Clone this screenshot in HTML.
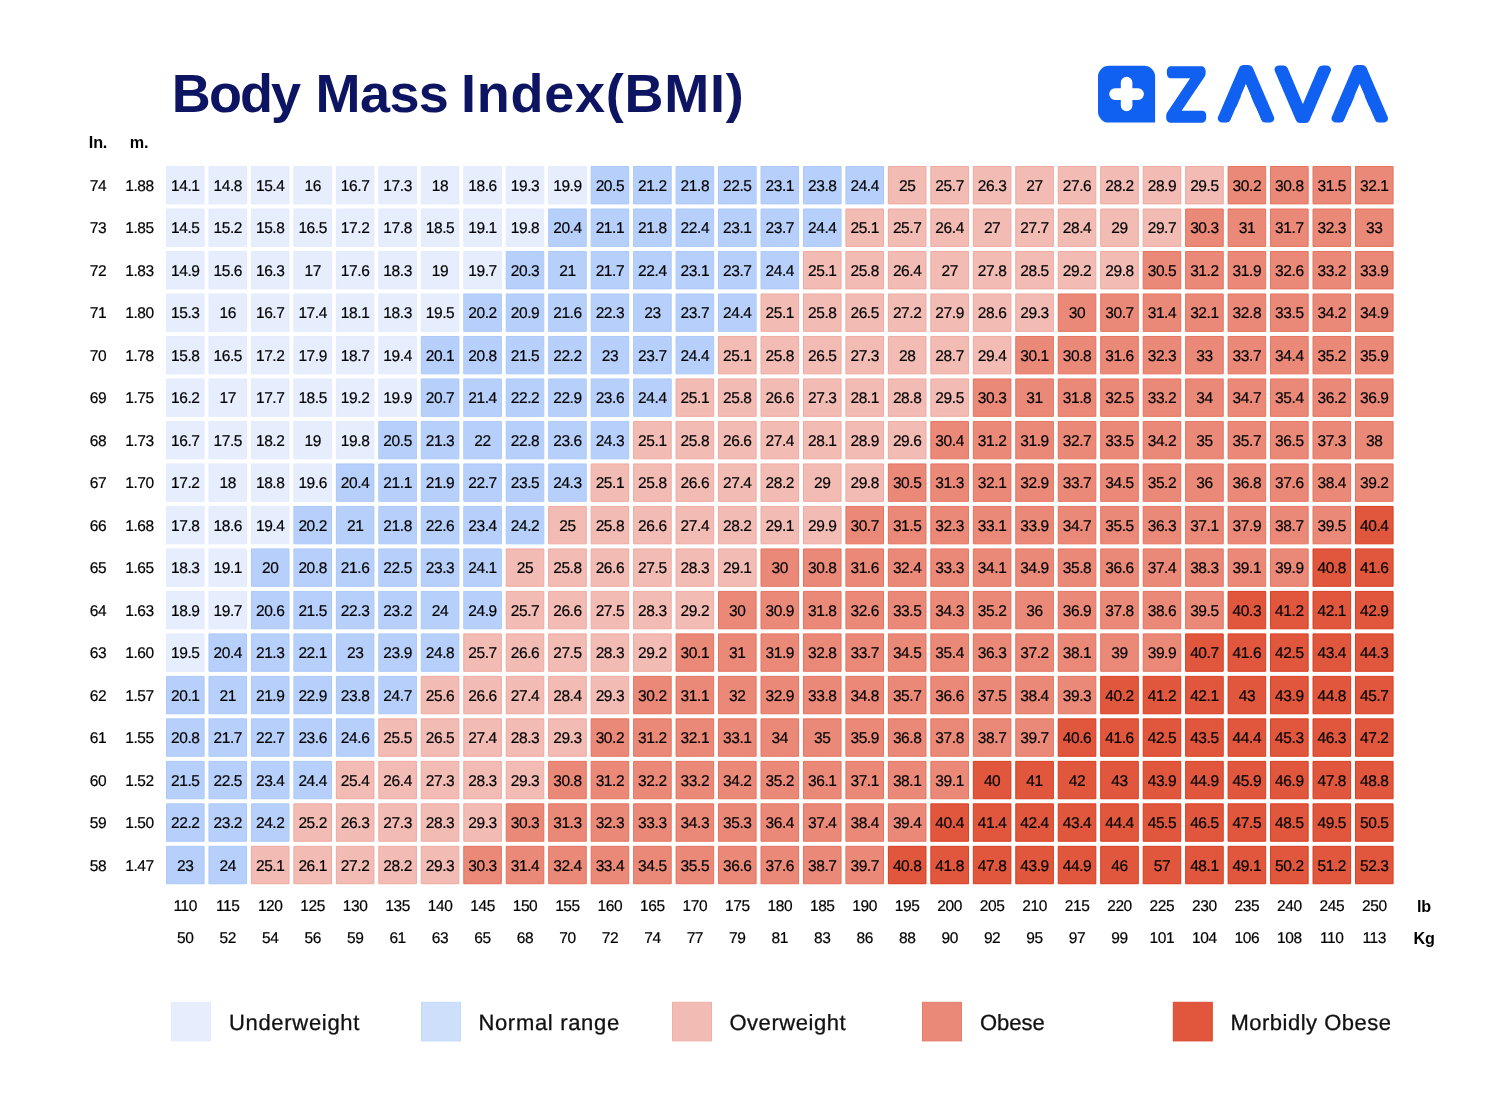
<!DOCTYPE html>
<html lang="en">
<head>
<meta charset="utf-8">
<title>Body Mass Index (BMI) chart</title>
<style>
html,body{margin:0;padding:0;background:#fff;}
body{width:1500px;height:1112px;position:relative;overflow:hidden;font-family:"Liberation Sans",sans-serif;color:#000;}
#title{position:absolute;left:171.8px;top:60px;margin:0;font-size:54px;line-height:66px;height:66px;width:800px;font-weight:bold;color:#0d1562;white-space:nowrap;}
#bg{position:absolute;left:0;top:0;}
.hd{position:absolute;font-weight:bold;font-size:16.2px;letter-spacing:-0.2px;line-height:20px;text-align:center;width:40px;}
.r{position:absolute;left:0;width:1500px;height:38.4px;}
.r div,.r span{position:absolute;top:0;height:38.4px;line-height:38.4px;text-align:center;font-size:15.5px;letter-spacing:-0.4px;-webkit-text-stroke:0.2px #000;text-rendering:geometricPrecision;}
.r div{width:38.6px;}
.r span{width:50px;}
.lt{position:absolute;top:1003px;height:40px;line-height:40px;font-size:22px;white-space:nowrap;color:#111;-webkit-text-stroke:0.3px #111;text-rendering:geometricPrecision;}
#logo{position:absolute;left:1090px;top:55px;}
</style>
</head>
<body>
<h1 id="title"><span style="letter-spacing:-1.9px">Body</span> <span style="letter-spacing:-0.6px;margin-left:1.4px">Mass</span> <span style="letter-spacing:0.75px;margin-left:-2.3px">Index(BMI)</span></h1>
<svg id="logo" width="320" height="80" viewBox="1090 55 320 80" role="img" aria-label="ZAVA">
<path d="M1109.0 65.7 H1144.1 A11 11 0 0 1 1155.1 76.7 V122.6 H1109.0 A11 11 0 0 1 1098.0 111.6 V76.7 A11 11 0 0 1 1109.0 65.7 Z" fill="#1061f2"/>
<path d="M1126.6 82.5 V105.4 M1115 94.1 H1138.1" stroke="#fff" stroke-width="11.6" stroke-linecap="round" fill="none"/>
<g transform="translate(1167.73 118.60) scale(0.7642 0.6694)" fill="#1061f2" stroke="#1061f2" stroke-linejoin="round"><text y="0" font-family="'DejaVu Sans Light','DejaVu Sans',sans-serif" font-weight="200" font-size="100" stroke-width="11.95"><tspan x="0" y="-1.12" font-size="96.93" textLength="48.35" lengthAdjust="spacingAndGlyphs" stroke-width="14.19">Z</tspan><tspan x="68.52" y="0">A</tspan><tspan x="142.53" y="0">V</tspan><tspan x="217.29" y="0">A</tspan></text><polygon fill="#fff" stroke="none" points="78.72,11.95 102.31,-50.66 126.02,11.95"/><polygon fill="#fff" stroke="none" points="227.49,11.95 251.08,-50.66 274.79,11.95"/></g>
</svg>
<svg id="bg" width="1500" height="1112" viewBox="0 0 1500 1112" aria-hidden="true">
<path fill="#e6eefe" stroke="#e3ebfe" d="M166.50 166.50h37.6v37.4h-37.6zM208.96 166.50h37.6v37.4h-37.6zM251.43 166.50h37.6v37.4h-37.6zM293.89 166.50h37.6v37.4h-37.6zM336.36 166.50h37.6v37.4h-37.6zM378.82 166.50h37.6v37.4h-37.6zM421.28 166.50h37.6v37.4h-37.6zM463.75 166.50h37.6v37.4h-37.6zM506.21 166.50h37.6v37.4h-37.6zM548.68 166.50h37.6v37.4h-37.6zM166.50 208.99h37.6v37.4h-37.6zM208.96 208.99h37.6v37.4h-37.6zM251.43 208.99h37.6v37.4h-37.6zM293.89 208.99h37.6v37.4h-37.6zM336.36 208.99h37.6v37.4h-37.6zM378.82 208.99h37.6v37.4h-37.6zM421.28 208.99h37.6v37.4h-37.6zM463.75 208.99h37.6v37.4h-37.6zM506.21 208.99h37.6v37.4h-37.6zM166.50 251.48h37.6v37.4h-37.6zM208.96 251.48h37.6v37.4h-37.6zM251.43 251.48h37.6v37.4h-37.6zM293.89 251.48h37.6v37.4h-37.6zM336.36 251.48h37.6v37.4h-37.6zM378.82 251.48h37.6v37.4h-37.6zM421.28 251.48h37.6v37.4h-37.6zM463.75 251.48h37.6v37.4h-37.6zM166.50 293.97h37.6v37.4h-37.6zM208.96 293.97h37.6v37.4h-37.6zM251.43 293.97h37.6v37.4h-37.6zM293.89 293.97h37.6v37.4h-37.6zM336.36 293.97h37.6v37.4h-37.6zM378.82 293.97h37.6v37.4h-37.6zM421.28 293.97h37.6v37.4h-37.6zM166.50 336.46h37.6v37.4h-37.6zM208.96 336.46h37.6v37.4h-37.6zM251.43 336.46h37.6v37.4h-37.6zM293.89 336.46h37.6v37.4h-37.6zM336.36 336.46h37.6v37.4h-37.6zM378.82 336.46h37.6v37.4h-37.6zM166.50 378.95h37.6v37.4h-37.6zM208.96 378.95h37.6v37.4h-37.6zM251.43 378.95h37.6v37.4h-37.6zM293.89 378.95h37.6v37.4h-37.6zM336.36 378.95h37.6v37.4h-37.6zM378.82 378.95h37.6v37.4h-37.6zM166.50 421.44h37.6v37.4h-37.6zM208.96 421.44h37.6v37.4h-37.6zM251.43 421.44h37.6v37.4h-37.6zM293.89 421.44h37.6v37.4h-37.6zM336.36 421.44h37.6v37.4h-37.6zM166.50 463.93h37.6v37.4h-37.6zM208.96 463.93h37.6v37.4h-37.6zM251.43 463.93h37.6v37.4h-37.6zM293.89 463.93h37.6v37.4h-37.6zM166.50 506.42h37.6v37.4h-37.6zM208.96 506.42h37.6v37.4h-37.6zM251.43 506.42h37.6v37.4h-37.6zM166.50 548.91h37.6v37.4h-37.6zM208.96 548.91h37.6v37.4h-37.6zM166.50 591.40h37.6v37.4h-37.6zM208.96 591.40h37.6v37.4h-37.6zM166.50 633.89h37.6v37.4h-37.6z"/>
<path fill="#b7d0fb" stroke="#acc9fa" d="M591.14 166.50h37.6v37.4h-37.6zM633.60 166.50h37.6v37.4h-37.6zM676.07 166.50h37.6v37.4h-37.6zM718.53 166.50h37.6v37.4h-37.6zM761.00 166.50h37.6v37.4h-37.6zM803.46 166.50h37.6v37.4h-37.6zM845.92 166.50h37.6v37.4h-37.6zM548.68 208.99h37.6v37.4h-37.6zM591.14 208.99h37.6v37.4h-37.6zM633.60 208.99h37.6v37.4h-37.6zM676.07 208.99h37.6v37.4h-37.6zM718.53 208.99h37.6v37.4h-37.6zM761.00 208.99h37.6v37.4h-37.6zM803.46 208.99h37.6v37.4h-37.6zM506.21 251.48h37.6v37.4h-37.6zM548.68 251.48h37.6v37.4h-37.6zM591.14 251.48h37.6v37.4h-37.6zM633.60 251.48h37.6v37.4h-37.6zM676.07 251.48h37.6v37.4h-37.6zM718.53 251.48h37.6v37.4h-37.6zM761.00 251.48h37.6v37.4h-37.6zM463.75 293.97h37.6v37.4h-37.6zM506.21 293.97h37.6v37.4h-37.6zM548.68 293.97h37.6v37.4h-37.6zM591.14 293.97h37.6v37.4h-37.6zM633.60 293.97h37.6v37.4h-37.6zM676.07 293.97h37.6v37.4h-37.6zM718.53 293.97h37.6v37.4h-37.6zM421.28 336.46h37.6v37.4h-37.6zM463.75 336.46h37.6v37.4h-37.6zM506.21 336.46h37.6v37.4h-37.6zM548.68 336.46h37.6v37.4h-37.6zM591.14 336.46h37.6v37.4h-37.6zM633.60 336.46h37.6v37.4h-37.6zM676.07 336.46h37.6v37.4h-37.6zM421.28 378.95h37.6v37.4h-37.6zM463.75 378.95h37.6v37.4h-37.6zM506.21 378.95h37.6v37.4h-37.6zM548.68 378.95h37.6v37.4h-37.6zM591.14 378.95h37.6v37.4h-37.6zM633.60 378.95h37.6v37.4h-37.6zM378.82 421.44h37.6v37.4h-37.6zM421.28 421.44h37.6v37.4h-37.6zM463.75 421.44h37.6v37.4h-37.6zM506.21 421.44h37.6v37.4h-37.6zM548.68 421.44h37.6v37.4h-37.6zM591.14 421.44h37.6v37.4h-37.6zM336.36 463.93h37.6v37.4h-37.6zM378.82 463.93h37.6v37.4h-37.6zM421.28 463.93h37.6v37.4h-37.6zM463.75 463.93h37.6v37.4h-37.6zM506.21 463.93h37.6v37.4h-37.6zM548.68 463.93h37.6v37.4h-37.6zM293.89 506.42h37.6v37.4h-37.6zM336.36 506.42h37.6v37.4h-37.6zM378.82 506.42h37.6v37.4h-37.6zM421.28 506.42h37.6v37.4h-37.6zM463.75 506.42h37.6v37.4h-37.6zM506.21 506.42h37.6v37.4h-37.6zM251.43 548.91h37.6v37.4h-37.6zM293.89 548.91h37.6v37.4h-37.6zM336.36 548.91h37.6v37.4h-37.6zM378.82 548.91h37.6v37.4h-37.6zM421.28 548.91h37.6v37.4h-37.6zM463.75 548.91h37.6v37.4h-37.6zM251.43 591.40h37.6v37.4h-37.6zM293.89 591.40h37.6v37.4h-37.6zM336.36 591.40h37.6v37.4h-37.6zM378.82 591.40h37.6v37.4h-37.6zM421.28 591.40h37.6v37.4h-37.6zM463.75 591.40h37.6v37.4h-37.6zM208.96 633.89h37.6v37.4h-37.6zM251.43 633.89h37.6v37.4h-37.6zM293.89 633.89h37.6v37.4h-37.6zM336.36 633.89h37.6v37.4h-37.6zM378.82 633.89h37.6v37.4h-37.6zM421.28 633.89h37.6v37.4h-37.6zM166.50 676.38h37.6v37.4h-37.6zM208.96 676.38h37.6v37.4h-37.6zM251.43 676.38h37.6v37.4h-37.6zM293.89 676.38h37.6v37.4h-37.6zM336.36 676.38h37.6v37.4h-37.6zM378.82 676.38h37.6v37.4h-37.6zM166.50 718.87h37.6v37.4h-37.6zM208.96 718.87h37.6v37.4h-37.6zM251.43 718.87h37.6v37.4h-37.6zM293.89 718.87h37.6v37.4h-37.6zM336.36 718.87h37.6v37.4h-37.6zM166.50 761.36h37.6v37.4h-37.6zM208.96 761.36h37.6v37.4h-37.6zM251.43 761.36h37.6v37.4h-37.6zM293.89 761.36h37.6v37.4h-37.6zM166.50 803.85h37.6v37.4h-37.6zM208.96 803.85h37.6v37.4h-37.6zM251.43 803.85h37.6v37.4h-37.6zM166.50 846.34h37.6v37.4h-37.6zM208.96 846.34h37.6v37.4h-37.6z"/>
<path fill="#f2bbb3" stroke="#efaaa0" d="M888.39 166.50h37.6v37.4h-37.6zM930.85 166.50h37.6v37.4h-37.6zM973.32 166.50h37.6v37.4h-37.6zM1015.78 166.50h37.6v37.4h-37.6zM1058.24 166.50h37.6v37.4h-37.6zM1100.71 166.50h37.6v37.4h-37.6zM1143.17 166.50h37.6v37.4h-37.6zM1185.64 166.50h37.6v37.4h-37.6zM845.92 208.99h37.6v37.4h-37.6zM888.39 208.99h37.6v37.4h-37.6zM930.85 208.99h37.6v37.4h-37.6zM973.32 208.99h37.6v37.4h-37.6zM1015.78 208.99h37.6v37.4h-37.6zM1058.24 208.99h37.6v37.4h-37.6zM1100.71 208.99h37.6v37.4h-37.6zM1143.17 208.99h37.6v37.4h-37.6zM803.46 251.48h37.6v37.4h-37.6zM845.92 251.48h37.6v37.4h-37.6zM888.39 251.48h37.6v37.4h-37.6zM930.85 251.48h37.6v37.4h-37.6zM973.32 251.48h37.6v37.4h-37.6zM1015.78 251.48h37.6v37.4h-37.6zM1058.24 251.48h37.6v37.4h-37.6zM1100.71 251.48h37.6v37.4h-37.6zM761.00 293.97h37.6v37.4h-37.6zM803.46 293.97h37.6v37.4h-37.6zM845.92 293.97h37.6v37.4h-37.6zM888.39 293.97h37.6v37.4h-37.6zM930.85 293.97h37.6v37.4h-37.6zM973.32 293.97h37.6v37.4h-37.6zM1015.78 293.97h37.6v37.4h-37.6zM718.53 336.46h37.6v37.4h-37.6zM761.00 336.46h37.6v37.4h-37.6zM803.46 336.46h37.6v37.4h-37.6zM845.92 336.46h37.6v37.4h-37.6zM888.39 336.46h37.6v37.4h-37.6zM930.85 336.46h37.6v37.4h-37.6zM973.32 336.46h37.6v37.4h-37.6zM676.07 378.95h37.6v37.4h-37.6zM718.53 378.95h37.6v37.4h-37.6zM761.00 378.95h37.6v37.4h-37.6zM803.46 378.95h37.6v37.4h-37.6zM845.92 378.95h37.6v37.4h-37.6zM888.39 378.95h37.6v37.4h-37.6zM930.85 378.95h37.6v37.4h-37.6zM633.60 421.44h37.6v37.4h-37.6zM676.07 421.44h37.6v37.4h-37.6zM718.53 421.44h37.6v37.4h-37.6zM761.00 421.44h37.6v37.4h-37.6zM803.46 421.44h37.6v37.4h-37.6zM845.92 421.44h37.6v37.4h-37.6zM888.39 421.44h37.6v37.4h-37.6zM591.14 463.93h37.6v37.4h-37.6zM633.60 463.93h37.6v37.4h-37.6zM676.07 463.93h37.6v37.4h-37.6zM718.53 463.93h37.6v37.4h-37.6zM761.00 463.93h37.6v37.4h-37.6zM803.46 463.93h37.6v37.4h-37.6zM845.92 463.93h37.6v37.4h-37.6zM548.68 506.42h37.6v37.4h-37.6zM591.14 506.42h37.6v37.4h-37.6zM633.60 506.42h37.6v37.4h-37.6zM676.07 506.42h37.6v37.4h-37.6zM718.53 506.42h37.6v37.4h-37.6zM761.00 506.42h37.6v37.4h-37.6zM803.46 506.42h37.6v37.4h-37.6zM506.21 548.91h37.6v37.4h-37.6zM548.68 548.91h37.6v37.4h-37.6zM591.14 548.91h37.6v37.4h-37.6zM633.60 548.91h37.6v37.4h-37.6zM676.07 548.91h37.6v37.4h-37.6zM718.53 548.91h37.6v37.4h-37.6zM506.21 591.40h37.6v37.4h-37.6zM548.68 591.40h37.6v37.4h-37.6zM591.14 591.40h37.6v37.4h-37.6zM633.60 591.40h37.6v37.4h-37.6zM676.07 591.40h37.6v37.4h-37.6zM463.75 633.89h37.6v37.4h-37.6zM506.21 633.89h37.6v37.4h-37.6zM548.68 633.89h37.6v37.4h-37.6zM591.14 633.89h37.6v37.4h-37.6zM633.60 633.89h37.6v37.4h-37.6zM421.28 676.38h37.6v37.4h-37.6zM463.75 676.38h37.6v37.4h-37.6zM506.21 676.38h37.6v37.4h-37.6zM548.68 676.38h37.6v37.4h-37.6zM591.14 676.38h37.6v37.4h-37.6zM378.82 718.87h37.6v37.4h-37.6zM421.28 718.87h37.6v37.4h-37.6zM463.75 718.87h37.6v37.4h-37.6zM506.21 718.87h37.6v37.4h-37.6zM548.68 718.87h37.6v37.4h-37.6zM336.36 761.36h37.6v37.4h-37.6zM378.82 761.36h37.6v37.4h-37.6zM421.28 761.36h37.6v37.4h-37.6zM463.75 761.36h37.6v37.4h-37.6zM506.21 761.36h37.6v37.4h-37.6zM293.89 803.85h37.6v37.4h-37.6zM336.36 803.85h37.6v37.4h-37.6zM378.82 803.85h37.6v37.4h-37.6zM421.28 803.85h37.6v37.4h-37.6zM463.75 803.85h37.6v37.4h-37.6zM251.43 846.34h37.6v37.4h-37.6zM293.89 846.34h37.6v37.4h-37.6zM336.36 846.34h37.6v37.4h-37.6zM378.82 846.34h37.6v37.4h-37.6zM421.28 846.34h37.6v37.4h-37.6z"/>
<path fill="#eb8978" stroke="#e5735e" d="M1228.10 166.50h37.6v37.4h-37.6zM1270.56 166.50h37.6v37.4h-37.6zM1313.03 166.50h37.6v37.4h-37.6zM1355.49 166.50h37.6v37.4h-37.6zM1185.64 208.99h37.6v37.4h-37.6zM1228.10 208.99h37.6v37.4h-37.6zM1270.56 208.99h37.6v37.4h-37.6zM1313.03 208.99h37.6v37.4h-37.6zM1355.49 208.99h37.6v37.4h-37.6zM1143.17 251.48h37.6v37.4h-37.6zM1185.64 251.48h37.6v37.4h-37.6zM1228.10 251.48h37.6v37.4h-37.6zM1270.56 251.48h37.6v37.4h-37.6zM1313.03 251.48h37.6v37.4h-37.6zM1355.49 251.48h37.6v37.4h-37.6zM1058.24 293.97h37.6v37.4h-37.6zM1100.71 293.97h37.6v37.4h-37.6zM1143.17 293.97h37.6v37.4h-37.6zM1185.64 293.97h37.6v37.4h-37.6zM1228.10 293.97h37.6v37.4h-37.6zM1270.56 293.97h37.6v37.4h-37.6zM1313.03 293.97h37.6v37.4h-37.6zM1355.49 293.97h37.6v37.4h-37.6zM1015.78 336.46h37.6v37.4h-37.6zM1058.24 336.46h37.6v37.4h-37.6zM1100.71 336.46h37.6v37.4h-37.6zM1143.17 336.46h37.6v37.4h-37.6zM1185.64 336.46h37.6v37.4h-37.6zM1228.10 336.46h37.6v37.4h-37.6zM1270.56 336.46h37.6v37.4h-37.6zM1313.03 336.46h37.6v37.4h-37.6zM1355.49 336.46h37.6v37.4h-37.6zM973.32 378.95h37.6v37.4h-37.6zM1015.78 378.95h37.6v37.4h-37.6zM1058.24 378.95h37.6v37.4h-37.6zM1100.71 378.95h37.6v37.4h-37.6zM1143.17 378.95h37.6v37.4h-37.6zM1185.64 378.95h37.6v37.4h-37.6zM1228.10 378.95h37.6v37.4h-37.6zM1270.56 378.95h37.6v37.4h-37.6zM1313.03 378.95h37.6v37.4h-37.6zM1355.49 378.95h37.6v37.4h-37.6zM930.85 421.44h37.6v37.4h-37.6zM973.32 421.44h37.6v37.4h-37.6zM1015.78 421.44h37.6v37.4h-37.6zM1058.24 421.44h37.6v37.4h-37.6zM1100.71 421.44h37.6v37.4h-37.6zM1143.17 421.44h37.6v37.4h-37.6zM1185.64 421.44h37.6v37.4h-37.6zM1228.10 421.44h37.6v37.4h-37.6zM1270.56 421.44h37.6v37.4h-37.6zM1313.03 421.44h37.6v37.4h-37.6zM1355.49 421.44h37.6v37.4h-37.6zM888.39 463.93h37.6v37.4h-37.6zM930.85 463.93h37.6v37.4h-37.6zM973.32 463.93h37.6v37.4h-37.6zM1015.78 463.93h37.6v37.4h-37.6zM1058.24 463.93h37.6v37.4h-37.6zM1100.71 463.93h37.6v37.4h-37.6zM1143.17 463.93h37.6v37.4h-37.6zM1185.64 463.93h37.6v37.4h-37.6zM1228.10 463.93h37.6v37.4h-37.6zM1270.56 463.93h37.6v37.4h-37.6zM1313.03 463.93h37.6v37.4h-37.6zM1355.49 463.93h37.6v37.4h-37.6zM845.92 506.42h37.6v37.4h-37.6zM888.39 506.42h37.6v37.4h-37.6zM930.85 506.42h37.6v37.4h-37.6zM973.32 506.42h37.6v37.4h-37.6zM1015.78 506.42h37.6v37.4h-37.6zM1058.24 506.42h37.6v37.4h-37.6zM1100.71 506.42h37.6v37.4h-37.6zM1143.17 506.42h37.6v37.4h-37.6zM1185.64 506.42h37.6v37.4h-37.6zM1228.10 506.42h37.6v37.4h-37.6zM1270.56 506.42h37.6v37.4h-37.6zM1313.03 506.42h37.6v37.4h-37.6zM761.00 548.91h37.6v37.4h-37.6zM803.46 548.91h37.6v37.4h-37.6zM845.92 548.91h37.6v37.4h-37.6zM888.39 548.91h37.6v37.4h-37.6zM930.85 548.91h37.6v37.4h-37.6zM973.32 548.91h37.6v37.4h-37.6zM1015.78 548.91h37.6v37.4h-37.6zM1058.24 548.91h37.6v37.4h-37.6zM1100.71 548.91h37.6v37.4h-37.6zM1143.17 548.91h37.6v37.4h-37.6zM1185.64 548.91h37.6v37.4h-37.6zM1228.10 548.91h37.6v37.4h-37.6zM1270.56 548.91h37.6v37.4h-37.6zM718.53 591.40h37.6v37.4h-37.6zM761.00 591.40h37.6v37.4h-37.6zM803.46 591.40h37.6v37.4h-37.6zM845.92 591.40h37.6v37.4h-37.6zM888.39 591.40h37.6v37.4h-37.6zM930.85 591.40h37.6v37.4h-37.6zM973.32 591.40h37.6v37.4h-37.6zM1015.78 591.40h37.6v37.4h-37.6zM1058.24 591.40h37.6v37.4h-37.6zM1100.71 591.40h37.6v37.4h-37.6zM1143.17 591.40h37.6v37.4h-37.6zM1185.64 591.40h37.6v37.4h-37.6zM676.07 633.89h37.6v37.4h-37.6zM718.53 633.89h37.6v37.4h-37.6zM761.00 633.89h37.6v37.4h-37.6zM803.46 633.89h37.6v37.4h-37.6zM845.92 633.89h37.6v37.4h-37.6zM888.39 633.89h37.6v37.4h-37.6zM930.85 633.89h37.6v37.4h-37.6zM973.32 633.89h37.6v37.4h-37.6zM1015.78 633.89h37.6v37.4h-37.6zM1058.24 633.89h37.6v37.4h-37.6zM1100.71 633.89h37.6v37.4h-37.6zM1143.17 633.89h37.6v37.4h-37.6zM633.60 676.38h37.6v37.4h-37.6zM676.07 676.38h37.6v37.4h-37.6zM718.53 676.38h37.6v37.4h-37.6zM761.00 676.38h37.6v37.4h-37.6zM803.46 676.38h37.6v37.4h-37.6zM845.92 676.38h37.6v37.4h-37.6zM888.39 676.38h37.6v37.4h-37.6zM930.85 676.38h37.6v37.4h-37.6zM973.32 676.38h37.6v37.4h-37.6zM1015.78 676.38h37.6v37.4h-37.6zM1058.24 676.38h37.6v37.4h-37.6zM591.14 718.87h37.6v37.4h-37.6zM633.60 718.87h37.6v37.4h-37.6zM676.07 718.87h37.6v37.4h-37.6zM718.53 718.87h37.6v37.4h-37.6zM761.00 718.87h37.6v37.4h-37.6zM803.46 718.87h37.6v37.4h-37.6zM845.92 718.87h37.6v37.4h-37.6zM888.39 718.87h37.6v37.4h-37.6zM930.85 718.87h37.6v37.4h-37.6zM973.32 718.87h37.6v37.4h-37.6zM1015.78 718.87h37.6v37.4h-37.6zM548.68 761.36h37.6v37.4h-37.6zM591.14 761.36h37.6v37.4h-37.6zM633.60 761.36h37.6v37.4h-37.6zM676.07 761.36h37.6v37.4h-37.6zM718.53 761.36h37.6v37.4h-37.6zM761.00 761.36h37.6v37.4h-37.6zM803.46 761.36h37.6v37.4h-37.6zM845.92 761.36h37.6v37.4h-37.6zM888.39 761.36h37.6v37.4h-37.6zM930.85 761.36h37.6v37.4h-37.6zM506.21 803.85h37.6v37.4h-37.6zM548.68 803.85h37.6v37.4h-37.6zM591.14 803.85h37.6v37.4h-37.6zM633.60 803.85h37.6v37.4h-37.6zM676.07 803.85h37.6v37.4h-37.6zM718.53 803.85h37.6v37.4h-37.6zM761.00 803.85h37.6v37.4h-37.6zM803.46 803.85h37.6v37.4h-37.6zM845.92 803.85h37.6v37.4h-37.6zM888.39 803.85h37.6v37.4h-37.6zM463.75 846.34h37.6v37.4h-37.6zM506.21 846.34h37.6v37.4h-37.6zM548.68 846.34h37.6v37.4h-37.6zM591.14 846.34h37.6v37.4h-37.6zM633.60 846.34h37.6v37.4h-37.6zM676.07 846.34h37.6v37.4h-37.6zM718.53 846.34h37.6v37.4h-37.6zM761.00 846.34h37.6v37.4h-37.6zM803.46 846.34h37.6v37.4h-37.6zM845.92 846.34h37.6v37.4h-37.6z"/>
<path fill="#e1573d" stroke="#da3d20" d="M1355.49 506.42h37.6v37.4h-37.6zM1313.03 548.91h37.6v37.4h-37.6zM1355.49 548.91h37.6v37.4h-37.6zM1228.10 591.40h37.6v37.4h-37.6zM1270.56 591.40h37.6v37.4h-37.6zM1313.03 591.40h37.6v37.4h-37.6zM1355.49 591.40h37.6v37.4h-37.6zM1185.64 633.89h37.6v37.4h-37.6zM1228.10 633.89h37.6v37.4h-37.6zM1270.56 633.89h37.6v37.4h-37.6zM1313.03 633.89h37.6v37.4h-37.6zM1355.49 633.89h37.6v37.4h-37.6zM1100.71 676.38h37.6v37.4h-37.6zM1143.17 676.38h37.6v37.4h-37.6zM1185.64 676.38h37.6v37.4h-37.6zM1228.10 676.38h37.6v37.4h-37.6zM1270.56 676.38h37.6v37.4h-37.6zM1313.03 676.38h37.6v37.4h-37.6zM1355.49 676.38h37.6v37.4h-37.6zM1058.24 718.87h37.6v37.4h-37.6zM1100.71 718.87h37.6v37.4h-37.6zM1143.17 718.87h37.6v37.4h-37.6zM1185.64 718.87h37.6v37.4h-37.6zM1228.10 718.87h37.6v37.4h-37.6zM1270.56 718.87h37.6v37.4h-37.6zM1313.03 718.87h37.6v37.4h-37.6zM1355.49 718.87h37.6v37.4h-37.6zM973.32 761.36h37.6v37.4h-37.6zM1015.78 761.36h37.6v37.4h-37.6zM1058.24 761.36h37.6v37.4h-37.6zM1100.71 761.36h37.6v37.4h-37.6zM1143.17 761.36h37.6v37.4h-37.6zM1185.64 761.36h37.6v37.4h-37.6zM1228.10 761.36h37.6v37.4h-37.6zM1270.56 761.36h37.6v37.4h-37.6zM1313.03 761.36h37.6v37.4h-37.6zM1355.49 761.36h37.6v37.4h-37.6zM930.85 803.85h37.6v37.4h-37.6zM973.32 803.85h37.6v37.4h-37.6zM1015.78 803.85h37.6v37.4h-37.6zM1058.24 803.85h37.6v37.4h-37.6zM1100.71 803.85h37.6v37.4h-37.6zM1143.17 803.85h37.6v37.4h-37.6zM1185.64 803.85h37.6v37.4h-37.6zM1228.10 803.85h37.6v37.4h-37.6zM1270.56 803.85h37.6v37.4h-37.6zM1313.03 803.85h37.6v37.4h-37.6zM1355.49 803.85h37.6v37.4h-37.6zM888.39 846.34h37.6v37.4h-37.6zM930.85 846.34h37.6v37.4h-37.6zM973.32 846.34h37.6v37.4h-37.6zM1015.78 846.34h37.6v37.4h-37.6zM1058.24 846.34h37.6v37.4h-37.6zM1100.71 846.34h37.6v37.4h-37.6zM1143.17 846.34h37.6v37.4h-37.6zM1185.64 846.34h37.6v37.4h-37.6zM1228.10 846.34h37.6v37.4h-37.6zM1270.56 846.34h37.6v37.4h-37.6zM1313.03 846.34h37.6v37.4h-37.6zM1355.49 846.34h37.6v37.4h-37.6z"/>
<rect x="171.5" y="1002.3" width="39" height="38.6" fill="#e6eefe" stroke="#e3ebfe"/>
<rect x="421.5" y="1002.3" width="39" height="38.6" fill="#cedffb" stroke="#c3d7fb"/>
<rect x="672.5" y="1002.3" width="39" height="38.6" fill="#f2bbb3" stroke="#f1b0a7"/>
<rect x="922.5" y="1002.3" width="39" height="38.6" fill="#eb8978" stroke="#e67b67"/>
<rect x="1173.3" y="1002.3" width="39" height="38.6" fill="#e1573d" stroke="#dd4a2f"/>
</svg>
<div class="hd" style="left:78px;top:132px">In.</div>
<div class="hd" style="left:119px;top:132px">m.</div>
<div class="r" style="top:168.20px"><span style="left:73px">74</span><span style="left:114.5px">1.88</span><div style="left:166.00px">14.1</div><div style="left:208.46px">14.8</div><div style="left:250.93px">15.4</div><div style="left:293.39px">16</div><div style="left:335.86px">16.7</div><div style="left:378.32px">17.3</div><div style="left:420.78px">18</div><div style="left:463.25px">18.6</div><div style="left:505.71px">19.3</div><div style="left:548.18px">19.9</div><div style="left:590.64px">20.5</div><div style="left:633.10px">21.2</div><div style="left:675.57px">21.8</div><div style="left:718.03px">22.5</div><div style="left:760.50px">23.1</div><div style="left:802.96px">23.8</div><div style="left:845.42px">24.4</div><div style="left:887.89px">25</div><div style="left:930.35px">25.7</div><div style="left:972.82px">26.3</div><div style="left:1015.28px">27</div><div style="left:1057.74px">27.6</div><div style="left:1100.21px">28.2</div><div style="left:1142.67px">28.9</div><div style="left:1185.14px">29.5</div><div style="left:1227.60px">30.2</div><div style="left:1270.06px">30.8</div><div style="left:1312.53px">31.5</div><div style="left:1354.99px">32.1</div></div>
<div class="r" style="top:210.20px"><span style="left:73px">73</span><span style="left:114.5px">1.85</span><div style="left:166.00px">14.5</div><div style="left:208.46px">15.2</div><div style="left:250.93px">15.8</div><div style="left:293.39px">16.5</div><div style="left:335.86px">17.2</div><div style="left:378.32px">17.8</div><div style="left:420.78px">18.5</div><div style="left:463.25px">19.1</div><div style="left:505.71px">19.8</div><div style="left:548.18px">20.4</div><div style="left:590.64px">21.1</div><div style="left:633.10px">21.8</div><div style="left:675.57px">22.4</div><div style="left:718.03px">23.1</div><div style="left:760.50px">23.7</div><div style="left:802.96px">24.4</div><div style="left:845.42px">25.1</div><div style="left:887.89px">25.7</div><div style="left:930.35px">26.4</div><div style="left:972.82px">27</div><div style="left:1015.28px">27.7</div><div style="left:1057.74px">28.4</div><div style="left:1100.21px">29</div><div style="left:1142.67px">29.7</div><div style="left:1185.14px">30.3</div><div style="left:1227.60px">31</div><div style="left:1270.06px">31.7</div><div style="left:1312.53px">32.3</div><div style="left:1354.99px">33</div></div>
<div class="r" style="top:253.20px"><span style="left:73px">72</span><span style="left:114.5px">1.83</span><div style="left:166.00px">14.9</div><div style="left:208.46px">15.6</div><div style="left:250.93px">16.3</div><div style="left:293.39px">17</div><div style="left:335.86px">17.6</div><div style="left:378.32px">18.3</div><div style="left:420.78px">19</div><div style="left:463.25px">19.7</div><div style="left:505.71px">20.3</div><div style="left:548.18px">21</div><div style="left:590.64px">21.7</div><div style="left:633.10px">22.4</div><div style="left:675.57px">23.1</div><div style="left:718.03px">23.7</div><div style="left:760.50px">24.4</div><div style="left:802.96px">25.1</div><div style="left:845.42px">25.8</div><div style="left:887.89px">26.4</div><div style="left:930.35px">27</div><div style="left:972.82px">27.8</div><div style="left:1015.28px">28.5</div><div style="left:1057.74px">29.2</div><div style="left:1100.21px">29.8</div><div style="left:1142.67px">30.5</div><div style="left:1185.14px">31.2</div><div style="left:1227.60px">31.9</div><div style="left:1270.06px">32.6</div><div style="left:1312.53px">33.2</div><div style="left:1354.99px">33.9</div></div>
<div class="r" style="top:295.20px"><span style="left:73px">71</span><span style="left:114.5px">1.80</span><div style="left:166.00px">15.3</div><div style="left:208.46px">16</div><div style="left:250.93px">16.7</div><div style="left:293.39px">17.4</div><div style="left:335.86px">18.1</div><div style="left:378.32px">18.3</div><div style="left:420.78px">19.5</div><div style="left:463.25px">20.2</div><div style="left:505.71px">20.9</div><div style="left:548.18px">21.6</div><div style="left:590.64px">22.3</div><div style="left:633.10px">23</div><div style="left:675.57px">23.7</div><div style="left:718.03px">24.4</div><div style="left:760.50px">25.1</div><div style="left:802.96px">25.8</div><div style="left:845.42px">26.5</div><div style="left:887.89px">27.2</div><div style="left:930.35px">27.9</div><div style="left:972.82px">28.6</div><div style="left:1015.28px">29.3</div><div style="left:1057.74px">30</div><div style="left:1100.21px">30.7</div><div style="left:1142.67px">31.4</div><div style="left:1185.14px">32.1</div><div style="left:1227.60px">32.8</div><div style="left:1270.06px">33.5</div><div style="left:1312.53px">34.2</div><div style="left:1354.99px">34.9</div></div>
<div class="r" style="top:338.20px"><span style="left:73px">70</span><span style="left:114.5px">1.78</span><div style="left:166.00px">15.8</div><div style="left:208.46px">16.5</div><div style="left:250.93px">17.2</div><div style="left:293.39px">17.9</div><div style="left:335.86px">18.7</div><div style="left:378.32px">19.4</div><div style="left:420.78px">20.1</div><div style="left:463.25px">20.8</div><div style="left:505.71px">21.5</div><div style="left:548.18px">22.2</div><div style="left:590.64px">23</div><div style="left:633.10px">23.7</div><div style="left:675.57px">24.4</div><div style="left:718.03px">25.1</div><div style="left:760.50px">25.8</div><div style="left:802.96px">26.5</div><div style="left:845.42px">27.3</div><div style="left:887.89px">28</div><div style="left:930.35px">28.7</div><div style="left:972.82px">29.4</div><div style="left:1015.28px">30.1</div><div style="left:1057.74px">30.8</div><div style="left:1100.21px">31.6</div><div style="left:1142.67px">32.3</div><div style="left:1185.14px">33</div><div style="left:1227.60px">33.7</div><div style="left:1270.06px">34.4</div><div style="left:1312.53px">35.2</div><div style="left:1354.99px">35.9</div></div>
<div class="r" style="top:380.20px"><span style="left:73px">69</span><span style="left:114.5px">1.75</span><div style="left:166.00px">16.2</div><div style="left:208.46px">17</div><div style="left:250.93px">17.7</div><div style="left:293.39px">18.5</div><div style="left:335.86px">19.2</div><div style="left:378.32px">19.9</div><div style="left:420.78px">20.7</div><div style="left:463.25px">21.4</div><div style="left:505.71px">22.2</div><div style="left:548.18px">22.9</div><div style="left:590.64px">23.6</div><div style="left:633.10px">24.4</div><div style="left:675.57px">25.1</div><div style="left:718.03px">25.8</div><div style="left:760.50px">26.6</div><div style="left:802.96px">27.3</div><div style="left:845.42px">28.1</div><div style="left:887.89px">28.8</div><div style="left:930.35px">29.5</div><div style="left:972.82px">30.3</div><div style="left:1015.28px">31</div><div style="left:1057.74px">31.8</div><div style="left:1100.21px">32.5</div><div style="left:1142.67px">33.2</div><div style="left:1185.14px">34</div><div style="left:1227.60px">34.7</div><div style="left:1270.06px">35.4</div><div style="left:1312.53px">36.2</div><div style="left:1354.99px">36.9</div></div>
<div class="r" style="top:423.20px"><span style="left:73px">68</span><span style="left:114.5px">1.73</span><div style="left:166.00px">16.7</div><div style="left:208.46px">17.5</div><div style="left:250.93px">18.2</div><div style="left:293.39px">19</div><div style="left:335.86px">19.8</div><div style="left:378.32px">20.5</div><div style="left:420.78px">21.3</div><div style="left:463.25px">22</div><div style="left:505.71px">22.8</div><div style="left:548.18px">23.6</div><div style="left:590.64px">24.3</div><div style="left:633.10px">25.1</div><div style="left:675.57px">25.8</div><div style="left:718.03px">26.6</div><div style="left:760.50px">27.4</div><div style="left:802.96px">28.1</div><div style="left:845.42px">28.9</div><div style="left:887.89px">29.6</div><div style="left:930.35px">30.4</div><div style="left:972.82px">31.2</div><div style="left:1015.28px">31.9</div><div style="left:1057.74px">32.7</div><div style="left:1100.21px">33.5</div><div style="left:1142.67px">34.2</div><div style="left:1185.14px">35</div><div style="left:1227.60px">35.7</div><div style="left:1270.06px">36.5</div><div style="left:1312.53px">37.3</div><div style="left:1354.99px">38</div></div>
<div class="r" style="top:465.20px"><span style="left:73px">67</span><span style="left:114.5px">1.70</span><div style="left:166.00px">17.2</div><div style="left:208.46px">18</div><div style="left:250.93px">18.8</div><div style="left:293.39px">19.6</div><div style="left:335.86px">20.4</div><div style="left:378.32px">21.1</div><div style="left:420.78px">21.9</div><div style="left:463.25px">22.7</div><div style="left:505.71px">23.5</div><div style="left:548.18px">24.3</div><div style="left:590.64px">25.1</div><div style="left:633.10px">25.8</div><div style="left:675.57px">26.6</div><div style="left:718.03px">27.4</div><div style="left:760.50px">28.2</div><div style="left:802.96px">29</div><div style="left:845.42px">29.8</div><div style="left:887.89px">30.5</div><div style="left:930.35px">31.3</div><div style="left:972.82px">32.1</div><div style="left:1015.28px">32.9</div><div style="left:1057.74px">33.7</div><div style="left:1100.21px">34.5</div><div style="left:1142.67px">35.2</div><div style="left:1185.14px">36</div><div style="left:1227.60px">36.8</div><div style="left:1270.06px">37.6</div><div style="left:1312.53px">38.4</div><div style="left:1354.99px">39.2</div></div>
<div class="r" style="top:508.20px"><span style="left:73px">66</span><span style="left:114.5px">1.68</span><div style="left:166.00px">17.8</div><div style="left:208.46px">18.6</div><div style="left:250.93px">19.4</div><div style="left:293.39px">20.2</div><div style="left:335.86px">21</div><div style="left:378.32px">21.8</div><div style="left:420.78px">22.6</div><div style="left:463.25px">23.4</div><div style="left:505.71px">24.2</div><div style="left:548.18px">25</div><div style="left:590.64px">25.8</div><div style="left:633.10px">26.6</div><div style="left:675.57px">27.4</div><div style="left:718.03px">28.2</div><div style="left:760.50px">29.1</div><div style="left:802.96px">29.9</div><div style="left:845.42px">30.7</div><div style="left:887.89px">31.5</div><div style="left:930.35px">32.3</div><div style="left:972.82px">33.1</div><div style="left:1015.28px">33.9</div><div style="left:1057.74px">34.7</div><div style="left:1100.21px">35.5</div><div style="left:1142.67px">36.3</div><div style="left:1185.14px">37.1</div><div style="left:1227.60px">37.9</div><div style="left:1270.06px">38.7</div><div style="left:1312.53px">39.5</div><div style="left:1354.99px">40.4</div></div>
<div class="r" style="top:550.20px"><span style="left:73px">65</span><span style="left:114.5px">1.65</span><div style="left:166.00px">18.3</div><div style="left:208.46px">19.1</div><div style="left:250.93px">20</div><div style="left:293.39px">20.8</div><div style="left:335.86px">21.6</div><div style="left:378.32px">22.5</div><div style="left:420.78px">23.3</div><div style="left:463.25px">24.1</div><div style="left:505.71px">25</div><div style="left:548.18px">25.8</div><div style="left:590.64px">26.6</div><div style="left:633.10px">27.5</div><div style="left:675.57px">28.3</div><div style="left:718.03px">29.1</div><div style="left:760.50px">30</div><div style="left:802.96px">30.8</div><div style="left:845.42px">31.6</div><div style="left:887.89px">32.4</div><div style="left:930.35px">33.3</div><div style="left:972.82px">34.1</div><div style="left:1015.28px">34.9</div><div style="left:1057.74px">35.8</div><div style="left:1100.21px">36.6</div><div style="left:1142.67px">37.4</div><div style="left:1185.14px">38.3</div><div style="left:1227.60px">39.1</div><div style="left:1270.06px">39.9</div><div style="left:1312.53px">40.8</div><div style="left:1354.99px">41.6</div></div>
<div class="r" style="top:593.20px"><span style="left:73px">64</span><span style="left:114.5px">1.63</span><div style="left:166.00px">18.9</div><div style="left:208.46px">19.7</div><div style="left:250.93px">20.6</div><div style="left:293.39px">21.5</div><div style="left:335.86px">22.3</div><div style="left:378.32px">23.2</div><div style="left:420.78px">24</div><div style="left:463.25px">24.9</div><div style="left:505.71px">25.7</div><div style="left:548.18px">26.6</div><div style="left:590.64px">27.5</div><div style="left:633.10px">28.3</div><div style="left:675.57px">29.2</div><div style="left:718.03px">30</div><div style="left:760.50px">30.9</div><div style="left:802.96px">31.8</div><div style="left:845.42px">32.6</div><div style="left:887.89px">33.5</div><div style="left:930.35px">34.3</div><div style="left:972.82px">35.2</div><div style="left:1015.28px">36</div><div style="left:1057.74px">36.9</div><div style="left:1100.21px">37.8</div><div style="left:1142.67px">38.6</div><div style="left:1185.14px">39.5</div><div style="left:1227.60px">40.3</div><div style="left:1270.06px">41.2</div><div style="left:1312.53px">42.1</div><div style="left:1354.99px">42.9</div></div>
<div class="r" style="top:635.20px"><span style="left:73px">63</span><span style="left:114.5px">1.60</span><div style="left:166.00px">19.5</div><div style="left:208.46px">20.4</div><div style="left:250.93px">21.3</div><div style="left:293.39px">22.1</div><div style="left:335.86px">23</div><div style="left:378.32px">23.9</div><div style="left:420.78px">24.8</div><div style="left:463.25px">25.7</div><div style="left:505.71px">26.6</div><div style="left:548.18px">27.5</div><div style="left:590.64px">28.3</div><div style="left:633.10px">29.2</div><div style="left:675.57px">30.1</div><div style="left:718.03px">31</div><div style="left:760.50px">31.9</div><div style="left:802.96px">32.8</div><div style="left:845.42px">33.7</div><div style="left:887.89px">34.5</div><div style="left:930.35px">35.4</div><div style="left:972.82px">36.3</div><div style="left:1015.28px">37.2</div><div style="left:1057.74px">38.1</div><div style="left:1100.21px">39</div><div style="left:1142.67px">39.9</div><div style="left:1185.14px">40.7</div><div style="left:1227.60px">41.6</div><div style="left:1270.06px">42.5</div><div style="left:1312.53px">43.4</div><div style="left:1354.99px">44.3</div></div>
<div class="r" style="top:678.20px"><span style="left:73px">62</span><span style="left:114.5px">1.57</span><div style="left:166.00px">20.1</div><div style="left:208.46px">21</div><div style="left:250.93px">21.9</div><div style="left:293.39px">22.9</div><div style="left:335.86px">23.8</div><div style="left:378.32px">24.7</div><div style="left:420.78px">25.6</div><div style="left:463.25px">26.6</div><div style="left:505.71px">27.4</div><div style="left:548.18px">28.4</div><div style="left:590.64px">29.3</div><div style="left:633.10px">30.2</div><div style="left:675.57px">31.1</div><div style="left:718.03px">32</div><div style="left:760.50px">32.9</div><div style="left:802.96px">33.8</div><div style="left:845.42px">34.8</div><div style="left:887.89px">35.7</div><div style="left:930.35px">36.6</div><div style="left:972.82px">37.5</div><div style="left:1015.28px">38.4</div><div style="left:1057.74px">39.3</div><div style="left:1100.21px">40.2</div><div style="left:1142.67px">41.2</div><div style="left:1185.14px">42.1</div><div style="left:1227.60px">43</div><div style="left:1270.06px">43.9</div><div style="left:1312.53px">44.8</div><div style="left:1354.99px">45.7</div></div>
<div class="r" style="top:720.20px"><span style="left:73px">61</span><span style="left:114.5px">1.55</span><div style="left:166.00px">20.8</div><div style="left:208.46px">21.7</div><div style="left:250.93px">22.7</div><div style="left:293.39px">23.6</div><div style="left:335.86px">24.6</div><div style="left:378.32px">25.5</div><div style="left:420.78px">26.5</div><div style="left:463.25px">27.4</div><div style="left:505.71px">28.3</div><div style="left:548.18px">29.3</div><div style="left:590.64px">30.2</div><div style="left:633.10px">31.2</div><div style="left:675.57px">32.1</div><div style="left:718.03px">33.1</div><div style="left:760.50px">34</div><div style="left:802.96px">35</div><div style="left:845.42px">35.9</div><div style="left:887.89px">36.8</div><div style="left:930.35px">37.8</div><div style="left:972.82px">38.7</div><div style="left:1015.28px">39.7</div><div style="left:1057.74px">40.6</div><div style="left:1100.21px">41.6</div><div style="left:1142.67px">42.5</div><div style="left:1185.14px">43.5</div><div style="left:1227.60px">44.4</div><div style="left:1270.06px">45.3</div><div style="left:1312.53px">46.3</div><div style="left:1354.99px">47.2</div></div>
<div class="r" style="top:763.20px"><span style="left:73px">60</span><span style="left:114.5px">1.52</span><div style="left:166.00px">21.5</div><div style="left:208.46px">22.5</div><div style="left:250.93px">23.4</div><div style="left:293.39px">24.4</div><div style="left:335.86px">25.4</div><div style="left:378.32px">26.4</div><div style="left:420.78px">27.3</div><div style="left:463.25px">28.3</div><div style="left:505.71px">29.3</div><div style="left:548.18px">30.8</div><div style="left:590.64px">31.2</div><div style="left:633.10px">32.2</div><div style="left:675.57px">33.2</div><div style="left:718.03px">34.2</div><div style="left:760.50px">35.2</div><div style="left:802.96px">36.1</div><div style="left:845.42px">37.1</div><div style="left:887.89px">38.1</div><div style="left:930.35px">39.1</div><div style="left:972.82px">40</div><div style="left:1015.28px">41</div><div style="left:1057.74px">42</div><div style="left:1100.21px">43</div><div style="left:1142.67px">43.9</div><div style="left:1185.14px">44.9</div><div style="left:1227.60px">45.9</div><div style="left:1270.06px">46.9</div><div style="left:1312.53px">47.8</div><div style="left:1354.99px">48.8</div></div>
<div class="r" style="top:805.20px"><span style="left:73px">59</span><span style="left:114.5px">1.50</span><div style="left:166.00px">22.2</div><div style="left:208.46px">23.2</div><div style="left:250.93px">24.2</div><div style="left:293.39px">25.2</div><div style="left:335.86px">26.3</div><div style="left:378.32px">27.3</div><div style="left:420.78px">28.3</div><div style="left:463.25px">29.3</div><div style="left:505.71px">30.3</div><div style="left:548.18px">31.3</div><div style="left:590.64px">32.3</div><div style="left:633.10px">33.3</div><div style="left:675.57px">34.3</div><div style="left:718.03px">35.3</div><div style="left:760.50px">36.4</div><div style="left:802.96px">37.4</div><div style="left:845.42px">38.4</div><div style="left:887.89px">39.4</div><div style="left:930.35px">40.4</div><div style="left:972.82px">41.4</div><div style="left:1015.28px">42.4</div><div style="left:1057.74px">43.4</div><div style="left:1100.21px">44.4</div><div style="left:1142.67px">45.5</div><div style="left:1185.14px">46.5</div><div style="left:1227.60px">47.5</div><div style="left:1270.06px">48.5</div><div style="left:1312.53px">49.5</div><div style="left:1354.99px">50.5</div></div>
<div class="r" style="top:848.20px"><span style="left:73px">58</span><span style="left:114.5px">1.47</span><div style="left:166.00px">23</div><div style="left:208.46px">24</div><div style="left:250.93px">25.1</div><div style="left:293.39px">26.1</div><div style="left:335.86px">27.2</div><div style="left:378.32px">28.2</div><div style="left:420.78px">29.3</div><div style="left:463.25px">30.3</div><div style="left:505.71px">31.4</div><div style="left:548.18px">32.4</div><div style="left:590.64px">33.4</div><div style="left:633.10px">34.5</div><div style="left:675.57px">35.5</div><div style="left:718.03px">36.6</div><div style="left:760.50px">37.6</div><div style="left:802.96px">38.7</div><div style="left:845.42px">39.7</div><div style="left:887.89px">40.8</div><div style="left:930.35px">41.8</div><div style="left:972.82px">47.8</div><div style="left:1015.28px">43.9</div><div style="left:1057.74px">44.9</div><div style="left:1100.21px">46</div><div style="left:1142.67px">57</div><div style="left:1185.14px">48.1</div><div style="left:1227.60px">49.1</div><div style="left:1270.06px">50.2</div><div style="left:1312.53px">51.2</div><div style="left:1354.99px">52.3</div></div>
<div class="r" style="top:888.40px"><div style="left:166.00px">110</div><div style="left:208.46px">115</div><div style="left:250.93px">120</div><div style="left:293.39px">125</div><div style="left:335.86px">130</div><div style="left:378.32px">135</div><div style="left:420.78px">140</div><div style="left:463.25px">145</div><div style="left:505.71px">150</div><div style="left:548.18px">155</div><div style="left:590.64px">160</div><div style="left:633.10px">165</div><div style="left:675.57px">170</div><div style="left:718.03px">175</div><div style="left:760.50px">180</div><div style="left:802.96px">185</div><div style="left:845.42px">190</div><div style="left:887.89px">195</div><div style="left:930.35px">200</div><div style="left:972.82px">205</div><div style="left:1015.28px">210</div><div style="left:1057.74px">215</div><div style="left:1100.21px">220</div><div style="left:1142.67px">225</div><div style="left:1185.14px">230</div><div style="left:1227.60px">235</div><div style="left:1270.06px">240</div><div style="left:1312.53px">245</div><div style="left:1354.99px">250</div></div>
<div class="r" style="top:920.30px"><div style="left:166.00px">50</div><div style="left:208.46px">52</div><div style="left:250.93px">54</div><div style="left:293.39px">56</div><div style="left:335.86px">59</div><div style="left:378.32px">61</div><div style="left:420.78px">63</div><div style="left:463.25px">65</div><div style="left:505.71px">68</div><div style="left:548.18px">70</div><div style="left:590.64px">72</div><div style="left:633.10px">74</div><div style="left:675.57px">77</div><div style="left:718.03px">79</div><div style="left:760.50px">81</div><div style="left:802.96px">83</div><div style="left:845.42px">86</div><div style="left:887.89px">88</div><div style="left:930.35px">90</div><div style="left:972.82px">92</div><div style="left:1015.28px">95</div><div style="left:1057.74px">97</div><div style="left:1100.21px">99</div><div style="left:1142.67px">101</div><div style="left:1185.14px">104</div><div style="left:1227.60px">106</div><div style="left:1270.06px">108</div><div style="left:1312.53px">110</div><div style="left:1354.99px">113</div></div>
<div class="hd" style="left:1404px;top:895.5px">lb</div>
<div class="hd" style="left:1404px;top:927.5px">Kg</div>
<div class="lt" style="left:228.9px;letter-spacing:0.7px">Underweight</div>
<div class="lt" style="left:478.4px;letter-spacing:0.68px">Normal range</div>
<div class="lt" style="left:729.4px;letter-spacing:0.56px">Overweight</div>
<div class="lt" style="left:980px;letter-spacing:0.0px">Obese</div>
<div class="lt" style="left:1230.4px;letter-spacing:0.51px">Morbidly Obese</div>
</body>
</html>
